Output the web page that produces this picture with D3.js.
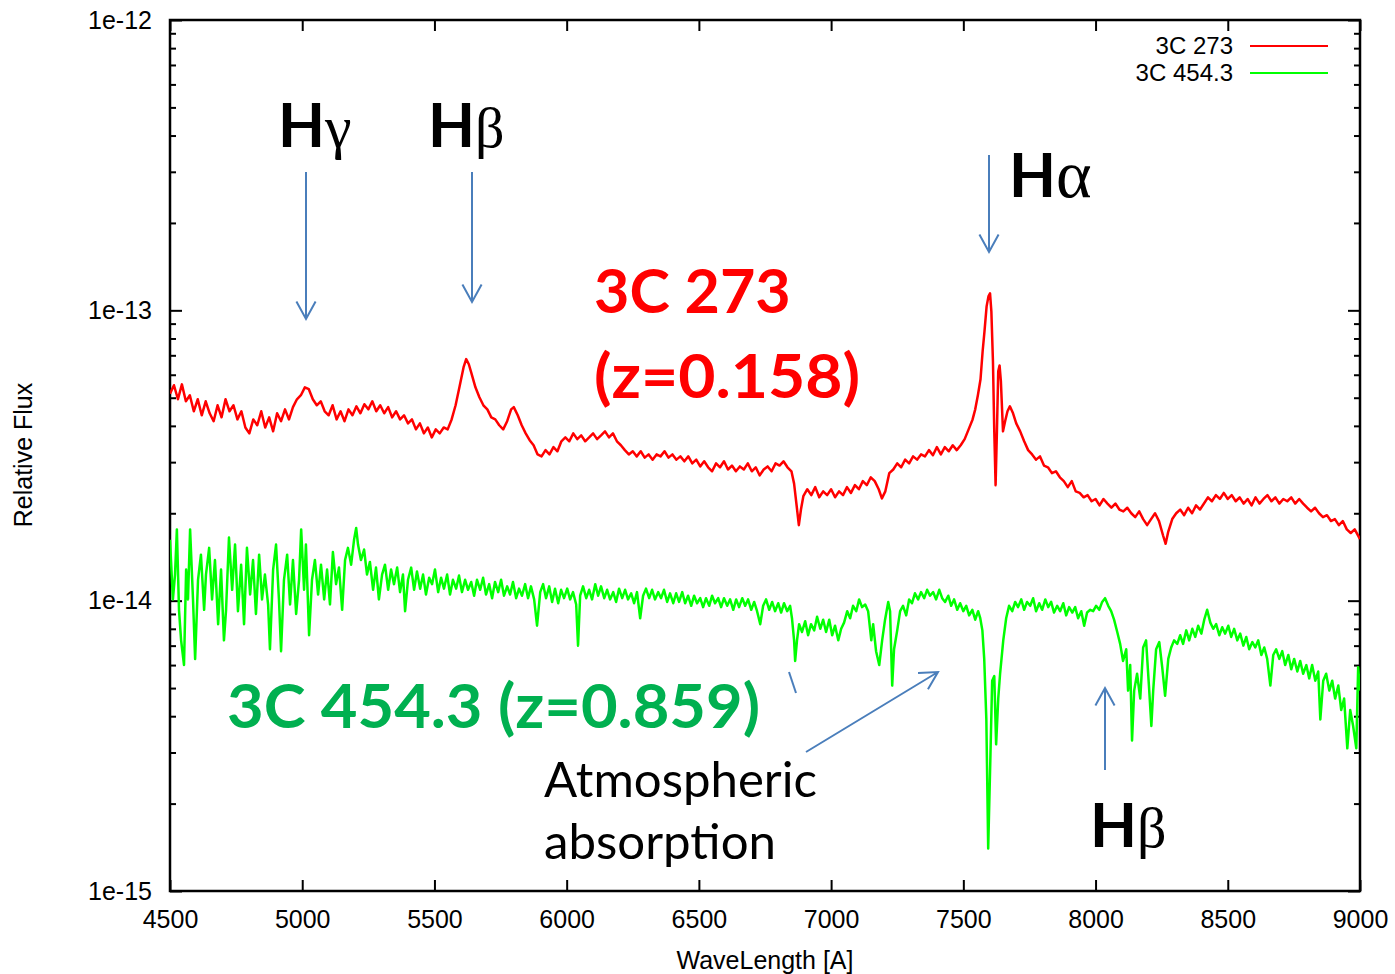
<!DOCTYPE html>
<meta charset="utf-8">
<html>
<head>
    <title>3C 273 / 3C 454.3 spectra</title>
</head>
<style type="text/css">
    body{ margin:0; background:#fff; }
    .axis text{ font-family: "Liberation Sans", Arial, sans-serif; font-size: 25px; fill:#000; }
    .axis line{ stroke:#000; stroke-width:2; }
    .axis path{ display:none; }
    .big{ font-family: Lato, "Open Sans", sans-serif; font-weight: bold; }
</style>
<script src="https://cdn.jsdelivr.net/npm/d3@7"></script>
<body>
<script type="text/javascript">
// flux values are in units of 1e-14 (relative flux), wavelength in Angstrom
var FLUX_UNIT = 1e-14

var xTicks = [4500, 5000, 5500, 6000, 6500, 7000, 7500, 8000, 8500, 9000]
var yDecades = [1e-15, 1e-14, 1e-13, 1e-12]
var yTickLabels = ["1e-15", "1e-14", "1e-13", "1e-12"]
var seriesNames = ["3C 273", "3C 454.3"]
var seriesColors = ["#ff0000", "#00ff00"]

var spec273 = [
[4500,5.16],[4515,5.52],[4530,4.94],[4545,5.56],[4560,4.86],[4575,5.10],[4590,4.49],[4605,4.94],[4620,4.35],[4635,4.86],
[4650,4.42],[4665,4.15],[4680,4.71],[4695,4.28],[4710,4.94],[4725,4.49],[4740,4.71],[4755,4.21],[4770,4.49],[4785,3.95],
[4800,3.77],[4815,4.21],[4830,4.02],[4845,4.49],[4860,3.95],[4875,4.28],[4890,3.83],[4905,4.42],[4920,4.15],[4935,4.56],
[4950,4.21],[4965,4.64],[4980,4.94],[4995,5.10],[5010,5.43],[5025,5.35],[5040,4.94],[5055,4.71],[5070,4.86],[5085,4.49],
[5100,4.35],[5115,4.71],[5130,4.21],[5145,4.49],[5160,4.15],[5175,4.56],[5190,4.35],[5205,4.67],[5220,4.42],[5235,4.75],
[5250,4.56],[5265,4.86],[5280,4.49],[5295,4.71],[5310,4.42],[5325,4.64],[5340,4.28],[5355,4.49],[5370,4.21],[5385,4.35],
[5400,4.08],[5415,4.21],[5430,3.89],[5445,4.08],[5460,3.77],[5475,3.95],[5490,3.65],[5505,3.89],[5520,3.77],[5535,3.95],
[5550,3.89],[5565,4.21],[5580,4.71],[5595,5.47],[5610,6.36],[5620,6.79],[5630,6.52],[5640,6.07],[5655,5.43],[5670,5.02],
[5685,4.71],[5700,4.56],[5715,4.28],[5730,4.21],[5745,4.02],[5760,3.89],[5775,4.15],[5790,4.56],[5800,4.64],[5815,4.35],
[5830,4.02],[5845,3.77],[5860,3.57],[5875,3.43],[5890,3.19],[5905,3.14],[5920,3.30],[5935,3.19],[5950,3.38],[5965,3.27],
[5980,3.54],[5995,3.65],[6010,3.54],[6025,3.77],[6040,3.60],[6055,3.71],[6070,3.54],[6085,3.65],[6100,3.77],[6115,3.60],
[6130,3.71],[6145,3.83],[6160,3.65],[6175,3.77],[6190,3.54],[6205,3.43],[6220,3.30],[6235,3.19],[6250,3.27],[6265,3.14],
[6280,3.27],[6295,3.11],[6310,3.19],[6325,3.06],[6340,3.19],[6355,3.14],[6370,3.27],[6385,3.11],[6400,3.19],[6415,3.06],
[6430,3.14],[6445,3.02],[6460,3.14],[6475,2.97],[6490,3.06],[6505,2.90],[6520,3.02],[6535,2.88],[6550,2.79],[6565,2.97],
[6580,2.88],[6595,3.02],[6610,2.83],[6625,2.92],[6640,2.79],[6655,2.90],[6670,2.83],[6685,2.97],[6700,2.79],[6715,2.88],
[6730,2.70],[6745,2.83],[6760,2.90],[6775,2.79],[6790,2.97],[6805,2.92],[6820,3.02],[6835,2.88],[6850,2.79],[6860,2.53],
[6870,2.11],[6878,1.82],[6886,2.06],[6895,2.29],[6910,2.42],[6925,2.31],[6940,2.46],[6955,2.27],[6970,2.38],[6985,2.31],
[7000,2.42],[7015,2.27],[7030,2.38],[7045,2.31],[7060,2.46],[7075,2.35],[7090,2.50],[7105,2.42],[7120,2.58],[7135,2.50],
[7150,2.66],[7165,2.58],[7180,2.42],[7192,2.25],[7205,2.38],[7220,2.75],[7235,2.83],[7250,2.97],[7265,2.88],[7280,3.06],
[7295,2.97],[7310,3.14],[7325,3.06],[7340,3.19],[7355,3.14],[7370,3.30],[7385,3.17],[7400,3.38],[7415,3.19],[7430,3.38],
[7445,3.27],[7460,3.43],[7475,3.30],[7490,3.43],[7505,3.60],[7520,3.89],[7535,4.21],[7545,4.56],[7555,5.10],[7565,5.79],
[7573,7.23],[7580,8.47],[7588,10.32],[7595,11.17],[7601,11.44],[7606,9.92],[7612,6.68],[7617,3.83],[7622,2.50],[7627,3.83],
[7632,6.17],[7637,6.46],[7642,5.70],[7650,3.83],[7658,4.15],[7667,4.49],[7676,4.67],[7688,4.42],[7700,4.08],[7715,3.83],
[7730,3.54],[7745,3.30],[7760,3.19],[7775,3.06],[7790,3.14],[7805,2.92],[7820,2.88],[7835,2.75],[7850,2.79],[7865,2.66],
[7880,2.58],[7895,2.46],[7910,2.58],[7925,2.38],[7940,2.35],[7955,2.27],[7970,2.31],[7985,2.20],[8000,2.24],[8015,2.13],
[8030,2.24],[8045,2.16],[8060,2.09],[8075,2.16],[8090,2.06],[8105,2.03],[8120,2.09],[8135,2.00],[8150,1.94],[8165,2.03],
[8180,1.91],[8195,1.82],[8210,1.91],[8225,2.00],[8240,1.88],[8255,1.68],[8265,1.57],[8275,1.73],[8290,1.91],[8305,2.00],
[8320,2.06],[8335,1.97],[8350,2.09],[8365,2.00],[8380,2.13],[8395,2.06],[8410,2.16],[8425,2.27],[8440,2.20],[8455,2.31],
[8470,2.24],[8485,2.35],[8500,2.24],[8515,2.31],[8530,2.20],[8545,2.27],[8560,2.16],[8575,2.24],[8590,2.13],[8605,2.27],
[8620,2.16],[8635,2.24],[8650,2.31],[8665,2.20],[8680,2.27],[8695,2.16],[8710,2.24],[8725,2.20],[8740,2.27],[8755,2.16],
[8770,2.24],[8785,2.16],[8800,2.09],[8815,2.03],[8830,2.09],[8845,2.00],[8860,1.94],[8875,1.97],[8890,1.88],[8905,1.91],
[8920,1.82],[8935,1.88],[8950,1.76],[8965,1.71],[8980,1.76],[9000,1.63]
]

var spec454 = [
[4500,1.62],[4511,1.01],[4519,1.23],[4526,1.76],[4534,0.93],[4542,0.73],[4553,0.60],[4561,1.28],[4568,1.01],[4576,1.76],
[4587,1.01],[4595,0.63],[4606,1.18],[4617,1.44],[4629,0.93],[4636,1.23],[4648,1.52],[4659,1.01],[4670,1.38],[4682,0.83],
[4693,1.28],[4704,0.73],[4712,0.93],[4723,1.65],[4735,1.09],[4746,1.56],[4757,0.92],[4769,1.33],[4780,0.83],[4791,1.52],
[4803,1.05],[4814,1.38],[4825,0.90],[4837,1.44],[4848,1.01],[4859,1.23],[4871,0.97],[4878,0.68],[4890,1.28],[4901,1.56],
[4912,1.01],[4920,0.67],[4931,1.18],[4943,1.44],[4954,0.97],[4965,1.38],[4977,0.90],[4988,1.18],[4996,1.76],[5007,1.09],
[5014,1.56],[5026,0.76],[5037,1.18],[5048,1.38],[5060,1.05],[5071,1.33],[5083,1.01],[5094,1.28],[5105,0.97],[5116,1.47],
[5128,1.14],[5139,1.30],[5151,0.93],[5162,1.38],[5173,1.52],[5185,1.33],[5196,1.62],[5204,1.78],[5211,1.56],[5222,1.38],
[5234,1.50],[5245,1.23],[5256,1.36],[5268,1.09],[5279,1.30],[5290,1.01],[5302,1.23],[5313,1.33],[5325,1.09],[5336,1.28],
[5347,1.14],[5359,1.30],[5370,1.07],[5381,1.23],[5389,0.92],[5400,1.18],[5412,1.30],[5423,1.09],[5434,1.26],[5446,1.10],
[5457,1.23],[5468,1.05],[5480,1.20],[5491,1.14],[5502,1.28],[5514,1.07],[5525,1.20],[5536,1.10],[5548,1.23],[5559,1.05],
[5570,1.18],[5582,1.10],[5593,1.22],[5604,1.07],[5616,1.18],[5627,1.09],[5639,1.16],[5650,1.04],[5661,1.18],[5673,1.09],
[5684,1.20],[5695,1.05],[5707,1.14],[5718,1.02],[5729,1.16],[5741,1.07],[5752,1.18],[5763,1.04],[5775,1.12],[5786,1.05],
[5797,1.16],[5809,1.02],[5820,1.10],[5831,1.04],[5843,1.14],[5854,1.02],[5865,1.12],[5877,1.01],[5888,0.82],[5900,1.07],
[5911,1.14],[5922,1.02],[5934,1.12],[5945,0.99],[5956,1.10],[5968,0.98],[5979,1.09],[5990,1.02],[6002,1.10],[6013,1.01],
[6024,1.07],[6036,0.97],[6043,0.70],[6051,1.04],[6062,1.12],[6074,1.02],[6085,1.09],[6096,1.01],[6108,1.14],[6119,1.04],
[6130,1.12],[6142,1.02],[6153,1.09],[6164,1.01],[6176,1.07],[6187,0.99],[6198,1.10],[6210,1.02],[6221,1.09],[6232,1.01],
[6244,1.06],[6255,0.98],[6266,1.07],[6278,0.87],[6289,1.04],[6300,1.10],[6312,1.02],[6323,1.09],[6334,1.01],[6346,1.07],
[6357,1.02],[6368,1.09],[6380,0.99],[6391,1.06],[6403,0.98],[6414,1.06],[6425,0.99],[6437,1.07],[6448,0.98],[6459,1.04],
[6471,0.96],[6482,1.04],[6493,0.98],[6505,1.02],[6516,0.95],[6527,1.02],[6539,0.96],[6550,1.04],[6561,0.98],[6573,1.02],
[6584,0.95],[6595,1.02],[6607,0.96],[6618,1.01],[6630,0.93],[6641,1.01],[6652,0.95],[6664,1.02],[6675,0.96],[6686,1.01],
[6698,0.93],[6709,0.99],[6720,0.92],[6732,0.83],[6743,0.96],[6754,1.01],[6766,0.93],[6777,0.99],[6788,0.92],[6800,0.98],
[6811,0.91],[6822,0.98],[6834,0.92],[6845,0.96],[6852,0.87],[6860,0.73],[6864,0.62],[6871,0.73],[6879,0.83],[6890,0.78],
[6902,0.85],[6913,0.76],[6924,0.83],[6936,0.79],[6947,0.88],[6959,0.80],[6970,0.86],[6981,0.78],[6993,0.86],[7004,0.76],
[7015,0.82],[7027,0.73],[7038,0.80],[7049,0.84],[7061,0.92],[7072,0.87],[7083,0.96],[7095,0.92],[7106,1.01],[7117,0.95],
[7129,0.97],[7140,0.92],[7152,0.73],[7159,0.83],[7170,0.67],[7182,0.60],[7193,0.73],[7204,0.86],[7216,0.99],[7223,0.92],
[7231,0.51],[7238,0.68],[7250,0.79],[7261,0.92],[7272,0.96],[7284,0.89],[7295,1.01],[7306,0.98],[7317,1.06],[7329,1.01],
[7340,1.07],[7352,1.02],[7363,1.09],[7374,1.04],[7386,1.07],[7397,1.01],[7409,1.09],[7420,1.02],[7431,0.99],[7443,1.04],
[7454,0.96],[7465,1.01],[7477,0.93],[7488,0.98],[7500,0.92],[7511,0.96],[7522,0.89],[7534,0.93],[7545,0.86],[7556,0.92],
[7564,0.87],[7572,0.79],[7579,0.63],[7587,0.39],[7594,0.14],[7602,0.28],[7609,0.53],[7617,0.55],[7624,0.32],[7632,0.46],
[7639,0.56],[7651,0.73],[7662,0.87],[7673,0.96],[7685,0.92],[7696,0.99],[7707,0.95],[7719,1.01],[7730,0.93],[7741,0.99],
[7753,0.96],[7764,1.02],[7775,0.92],[7787,0.98],[7798,0.93],[7810,1.01],[7821,0.95],[7832,0.99],[7843,0.91],[7855,0.96],
[7866,0.92],[7878,0.98],[7889,0.89],[7900,0.95],[7912,0.91],[7923,0.95],[7934,0.87],[7946,0.92],[7957,0.82],[7968,0.91],
[7980,0.93],[7991,0.92],[8002,0.96],[8014,0.93],[8025,0.99],[8036,1.02],[8048,0.96],[8059,0.92],[8070,0.86],[8082,0.78],
[8093,0.71],[8104,0.62],[8116,0.68],[8123,0.49],[8131,0.60],[8138,0.33],[8146,0.49],[8157,0.56],[8169,0.46],[8180,0.69],
[8191,0.73],[8203,0.49],[8211,0.37],[8218,0.49],[8229,0.68],[8241,0.72],[8252,0.59],[8263,0.47],[8275,0.63],[8286,0.69],
[8297,0.73],[8309,0.71],[8320,0.76],[8331,0.71],[8343,0.79],[8354,0.73],[8366,0.80],[8377,0.75],[8388,0.82],[8400,0.77],
[8411,0.86],[8422,0.93],[8434,0.84],[8445,0.80],[8456,0.83],[8468,0.76],[8479,0.81],[8490,0.77],[8502,0.82],[8513,0.75],
[8524,0.80],[8536,0.73],[8547,0.77],[8559,0.70],[8570,0.75],[8581,0.68],[8593,0.72],[8604,0.69],[8615,0.73],[8627,0.65],
[8638,0.69],[8649,0.63],[8661,0.51],[8672,0.65],[8683,0.68],[8695,0.63],[8706,0.67],[8717,0.60],[8729,0.65],[8740,0.58],
[8751,0.63],[8763,0.57],[8774,0.62],[8785,0.56],[8797,0.60],[8808,0.54],[8819,0.60],[8831,0.53],[8842,0.57],[8850,0.39],
[8861,0.53],[8872,0.56],[8884,0.49],[8895,0.53],[8906,0.46],[8918,0.51],[8929,0.42],[8940,0.46],[8952,0.31],[8963,0.42],
[8974,0.37],[8986,0.31],[8993,0.59],[9000,0.49]
]

var svg = d3.select("body").append("svg")
    .attr("width", 1395)
    .attr("height", 974)

var margin = {top: 20, right: 35, bottom: 83, left: 170}
var width = 1395 - margin.left - margin.right,
    height = 974 - margin.top - margin.bottom

var g = svg.append("g").attr("transform", "translate(" + margin.left + "," + margin.top + ")")

var x = d3.scaleLinear().domain([4500, 9000]).range([0, width])
var y = d3.scaleLog().domain([1e-15, 1e-12]).range([height, 0])

// minor log ticks (2..9 of each decade)
var minor = y.ticks().filter(d => yDecades.indexOf(d) < 0)

g.append("defs").append("clipPath").attr("id", "plotclip")
  .append("rect").attr("width", width).attr("height", height)

// axes, gnuplot style: ticks pointing inwards on all four sides
g.append("g").attr("class", "axis")
  .attr("transform", "translate(0," + height + ")")
  .call(d3.axisBottom(x).tickValues(xTicks).tickSize(-11).tickFormat(d3.format("d")))
  .selectAll("text").attr("y", 37).attr("dy", 0)
g.append("g").attr("class", "axis")
  .call(d3.axisTop(x).tickValues(xTicks).tickSize(-11).tickFormat(""))
g.append("g").attr("class", "axis")
  .call(d3.axisLeft(y).tickValues(yDecades).tickSize(-12).tickPadding(18)
  .tickFormat((d, i) => yTickLabels[i]))
g.append("g").attr("class", "axis")
  .call(d3.axisLeft(y).tickValues(minor).tickSize(-6).tickFormat(""))
g.append("g").attr("class", "axis")
  .attr("transform", "translate(" + width + ",0)")
  .call(d3.axisRight(y).tickValues(yDecades).tickSize(-12).tickFormat(""))
g.append("g").attr("class", "axis")
  .attr("transform", "translate(" + width + ",0)")
  .call(d3.axisRight(y).tickValues(minor).tickSize(-6).tickFormat(""))

g.append("rect")
  .attr("width", width).attr("height", height)
  .attr("fill", "none").attr("stroke", "#000").attr("stroke-width", 2.5)

var line = d3.line()
  .x(d => x(d[0]))
  .y(d => y(d[1] * FLUX_UNIT))

g.append("g").attr("clip-path", "url(#plotclip)")
  .selectAll("path.spec")
  .data([spec273, spec454])
  .enter().append("path")
  .attr("class", "spec")
  .attr("d", line)
  .attr("fill", "none")
  .attr("stroke", (d, i) => seriesColors[i])
  .attr("stroke-width", 2.5)
  .attr("stroke-linejoin", "round")

// legend
var leg = g.selectAll("g.legend")
  .data(seriesNames).enter()
  .append("g").attr("class", "legend")
  .attr("transform", (d, i) => "translate(0," + (26 + i * 27) + ")")
leg.append("text")
  .attr("x", 1063).attr("y", 8)
  .attr("text-anchor", "end")
  .style("font-family", "'Liberation Sans', Arial, sans-serif")
  .style("font-size", "24px")
  .text(d => d)
leg.append("line")
  .attr("x1", 1080).attr("x2", 1158)
  .attr("stroke", (d, i) => seriesColors[i])
  .attr("stroke-width", 2)

// axis titles
svg.append("text")
  .attr("x", 765).attr("y", 969)
  .attr("text-anchor", "middle")
  .style("font-family", "'Liberation Sans', Arial, sans-serif")
  .style("font-size", "25px")
  .text("WaveLength [A]")
svg.append("text")
  .attr("transform", "translate(32,455) rotate(-90)")
  .attr("text-anchor", "middle")
  .style("font-family", "'Liberation Sans', Arial, sans-serif")
  .style("font-size", "25px")
  .text("Relative Flux")

// annotations (slide overlay)
var arrowColor = "#4a7ebb"
function arrow(x1, y1, x2, y2){
    var a = Math.atan2(y2 - y1, x2 - x1), L = 20, w = 0.5
    svg.append("path")
      .attr("d", "M" + x1 + "," + y1 + "L" + x2 + "," + y2 +
        "M" + (x2 - L * Math.cos(a - w)) + "," + (y2 - L * Math.sin(a - w)) +
        "L" + x2 + "," + y2 +
        "L" + (x2 - L * Math.cos(a + w)) + "," + (y2 - L * Math.sin(a + w)))
      .attr("fill", "none")
      .attr("stroke", arrowColor)
      .attr("stroke-width", 2)
}
arrow(306, 172, 306, 319)
arrow(472, 172, 472, 302)
arrow(989, 155, 989, 252)
arrow(1105, 770, 1105, 688)
arrow(806, 752, 938, 672)
svg.append("line")
  .attr("x1", 789).attr("y1", 672).attr("x2", 796).attr("y2", 693)
  .attr("stroke", arrowColor).attr("stroke-width", 2)

function lineLabel(xp, yp, greek, size){
    var t = svg.append("text").attr("x", xp).attr("y", yp)
    t.append("tspan").attr("class", "big").style("font-size", "61px").text("H")
    t.append("tspan")
      .style("font-family", "'Liberation Serif', 'DejaVu Serif', serif")
      .style("font-size", size + "px")
      .text(greek)
}
lineLabel(278, 147, "γ", 60)
lineLabel(428, 147, "β", 58)
lineLabel(1009, 197, "α", 68)
lineLabel(1090, 847, "β", 58)

svg.append("text").attr("class", "big")
  .attr("x", 594).attr("y", 313)
  .style("font-size", "61px").attr("fill", "#ff0000")
  .text("3C 273")
svg.append("text").attr("class", "big")
  .attr("x", 594).attr("y", 398)
  .attr("textLength", 266).attr("lengthAdjust", "spacingAndGlyphs")
  .style("font-size", "62px").attr("fill", "#ff0000")
  .text("(z=0.158)")
svg.append("text").attr("class", "big")
  .attr("x", 227).attr("y", 728)
  .attr("textLength", 533).attr("lengthAdjust", "spacingAndGlyphs")
  .style("font-size", "62px").attr("fill", "#00b050")
  .text("3C 454.3 (z=0.859)")

svg.append("text")
  .attr("x", 544).attr("y", 797)
  .style("font-family", "Lato, 'Open Sans', sans-serif")
  .style("font-size", "48px")
  .attr("textLength", 273).attr("lengthAdjust", "spacingAndGlyphs")
  .text("Atmospheric")
svg.append("text")
  .attr("x", 544).attr("y", 859)
  .style("font-family", "Lato, 'Open Sans', sans-serif")
  .style("font-size", "48px")
  .attr("textLength", 232).attr("lengthAdjust", "spacingAndGlyphs")
  .text("absorption")
</script>
</body>
</html>
